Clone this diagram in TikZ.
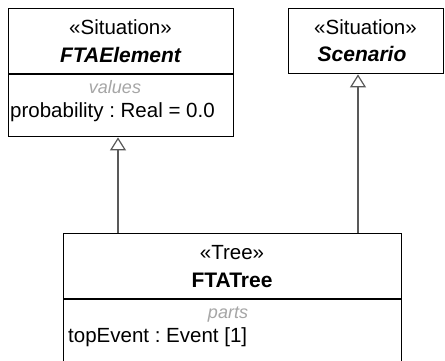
\documentclass[tikz,border=0pt]{standalone}
\usepackage{fontspec}
\setmainfont{Liberation Sans}
\usetikzlibrary{arrows.meta}
\frenchspacing
\begin{document}
\begin{tikzpicture}[x=1pt,y=-1pt,
  box/.style={draw=black, line width=1.4pt, fill=white, inner sep=0pt},
  divider/.style={draw=black, line width=1.4pt},
  txt/.style={inner sep=0pt, anchor=base, font=\fontsize{20.5}{24}\selectfont},
  stereo/.style={txt},
  cname/.style={txt, font=\fontsize{21}{24}\selectfont\bfseries\itshape},
  cnameup/.style={txt, font=\fontsize{21}{24}\selectfont\bfseries},
  comp/.style={txt, font=\fontsize{18}{22}\selectfont\itshape, text=gray!70},
  attr/.style={txt, anchor=base west},
  gen/.style={draw=black!65, line width=1.2pt, -{Triangle[open, length=13pt, width=16pt, fill=white]}}
]
\clip (0,0) rectangle (445,360);
\fill[white] (0,0) rectangle (445,360);

% FTAElement
\node[box, minimum width=225pt, minimum height=128pt, anchor=north west] (fta) at (8,8) {};
\draw[divider] (8,74) -- (233,74);
\node[stereo] (ftaS) at (120.5,34) {«Situation»};
\node[cname] (ftaN) at (120.5,62) {FTAElement};
\node[comp] (ftaC) at (115,93) {values};
\node[attr] (ftaA) at (10,117) {probability : Real = 0.0};

% Scenario
\node[box, minimum width=155pt, minimum height=65pt, anchor=north west] (scn) at (288,8) {};
\node[stereo] (scnS) at (365.5,34) {«Situation»};
\node[cname] (scnN) at (362,61) {Scenario};

% FTATree
\node[box, minimum width=338pt, minimum height=140pt, anchor=north west] (tree) at (63,233) {};
\draw[divider] (63,299) -- (401,299);
\node[stereo] (treeS) at (232,259) {«Tree»};
\node[cnameup] (treeN) at (232,287) {FTATree};
\node[comp] (treeC) at (228,318) {parts};
\node[attr] (treeA) at (68,342) {topEvent : Event [1]};

% generalizations
\coordinate (lx) at (118,0);
\coordinate (rx) at (358,0);
\draw[gen] (tree.north -| lx) -- (fta.south -| lx);
\draw[gen] (tree.north -| rx) -- (scn.south -| rx);
\end{tikzpicture}
\end{document}
